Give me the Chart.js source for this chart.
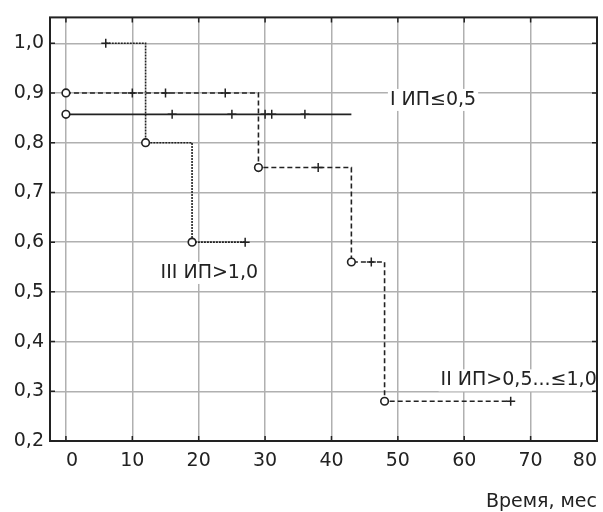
<!DOCTYPE html>
<html>
<head>
<meta charset="utf-8">
<script src="https://cdn.jsdelivr.net/npm/chart.js@4.4.1/dist/chart.umd.min.js"></script>
<style>
    html, body { margin: 0; padding: 0; background: #fff; }
    #wrap { width: 603px; height: 512px; }
</style>
</head>
<body>
<div id="wrap"><canvas id="survChart"></canvas></div>
<script>
// Axis ticks
const xTicks = [0, 10, 20, 30, 40, 50, 60, 70, 80];
const yTicks = [0.2, 0.3, 0.4, 0.5, 0.6, 0.7, 0.8, 0.9, 1.0];
const yTickLabels = ['0,2', '0,3', '0,4', '0,5', '0,6', '0,7', '0,8', '0,9', '1,0'];

// Group I  ИП≤0,5
const g1StepTime = [0, 43];
const g1StepSurv = [0.857, 0.857];
const g1EventTime = [0];
const g1EventSurv = [0.857];
const g1CensorTime = [16, 25, 30, 31, 36];
const g1CensorSurv = [0.857, 0.857, 0.857, 0.857, 0.857];

// Group II  ИП>0,5...≤1,0
const g2StepTime = [0, 29, 43, 48, 67];
const g2StepSurv = [0.9, 0.75, 0.56, 0.28, 0.28];
const g2EventTime = [0, 29, 43, 48];
const g2EventSurv = [0.9, 0.75, 0.56, 0.28];
const g2CensorTime = [10, 15, 24, 38, 46, 67];
const g2CensorSurv = [0.9, 0.9, 0.9, 0.75, 0.56, 0.28];

// Group III  ИП>1,0
const g3StepTime = [6, 12, 19, 27];
const g3StepSurv = [1.0, 0.8, 0.6, 0.6];
const g3EventTime = [12, 19];
const g3EventSurv = [0.8, 0.6];
const g3CensorTime = [6, 27];
const g3CensorSurv = [1.0, 0.6];

// Curve labels (text and anchor in data units)
const curveLabels = [
    { text: 'I ИП≤0,5', x: 55.3, y: 0.886 },
    { text: 'II ИП>0,5...≤1,0', x: 68.2, y: 0.322 },
    { text: 'III ИП>1,0', x: 21.6, y: 0.538 }
];

const FONT = 'DejaVu Sans';
const INK = '#222';

function pts(xs, ys) {
    return xs.map((x, i) => ({ x: x, y: ys[i] }));
}

function stepSet(xs, ys, dash) {
    return {
        data: pts(xs, ys),
        showLine: true,
        stepped: 'before',
        borderColor: INK,
        borderWidth: 1.6,
        borderDash: dash,
        pointRadius: 0,
        order: 3
    };
}

function eventSet(xs, ys) {
    return {
        data: pts(xs, ys),
        showLine: false,
        pointStyle: 'circle',
        pointRadius: 3.8,
        pointBorderWidth: 1.6,
        pointBorderColor: INK,
        pointBackgroundColor: '#fff',
        order: 1
    };
}

function censorSet(xs, ys) {
    return {
        data: pts(xs, ys),
        showLine: false,
        pointStyle: 'cross',
        pointRadius: 4.5,
        pointBorderWidth: 1.5,
        pointBorderColor: INK,
        order: 2
    };
}

// Labels, full frame and inner tick marks
const framePlugin = {
    id: 'frame',
    afterDatasetsDraw(chart) {
        const { ctx, chartArea: a, scales: { x, y } } = chart;
        ctx.save();
        ctx.font = '19px "' + FONT + '"';
        ctx.textAlign = 'center';
        ctx.textBaseline = 'middle';
        curveLabels.forEach(l => {
            const px = x.getPixelForValue(l.x);
            const py = y.getPixelForValue(l.y);
            const w = ctx.measureText(l.text).width;
            ctx.fillStyle = '#fff';
            ctx.fillRect(px - w / 2 - 2, py - 11, w + 4, 22);
            ctx.fillStyle = INK;
            ctx.fillText(l.text, px, py);
        });

        ctx.strokeStyle = INK;
        ctx.lineWidth = 2;
        ctx.strokeRect(a.left, a.top, a.right - a.left, a.bottom - a.top);

        ctx.lineWidth = 1.5;
        ctx.beginPath();
        xTicks.forEach(v => {
            const px = x.getPixelForValue(v);
            ctx.moveTo(px, a.top);
            ctx.lineTo(px, a.top + 5);
            ctx.moveTo(px, a.bottom);
            ctx.lineTo(px, a.bottom - 5);
        });
        yTicks.forEach(v => {
            const py = y.getPixelForValue(v);
            ctx.moveTo(a.left, py);
            ctx.lineTo(a.left + 5, py);
            ctx.moveTo(a.right, py);
            ctx.lineTo(a.right - 5, py);
        });
        ctx.stroke();
        ctx.restore();
    }
};

const ctx = document.getElementById('survChart').getContext('2d');
new Chart(ctx, {
    type: 'scatter',
    data: {
        datasets: [
            stepSet(g1StepTime, g1StepSurv, []),
            stepSet(g2StepTime, g2StepSurv, [5, 3]),
            stepSet(g3StepTime, g3StepSurv, [2, 1]),
            eventSet(g1EventTime, g1EventSurv),
            eventSet(g2EventTime, g2EventSurv),
            eventSet(g3EventTime, g3EventSurv),
            censorSet(g1CensorTime, g1CensorSurv),
            censorSet(g2CensorTime, g2CensorSurv),
            censorSet(g3CensorTime, g3CensorSurv)
        ]
    },
    options: {
        responsive: true,
        maintainAspectRatio: false,
        animation: false,
        layout: { padding: { top: 15, right: 4, bottom: 0, left: 0 } },
        plugins: {
            legend: { display: false },
            tooltip: { enabled: false }
        },
        scales: {
            x: {
                type: 'linear',
                min: -2.4,
                max: 80,
                afterBuildTicks: s => { s.ticks = xTicks.map(v => ({ value: v })); },
                afterFit: s => { s.height = 71; s.paddingRight = 0; s.paddingLeft = 0; },
                grid: { color: '#b0b0b0', lineWidth: 1.5, drawTicks: false },
                border: { display: false },
                ticks: {
                    padding: 9,
                    align: 'inner',
                    color: INK,
                    font: { family: FONT, size: 19 },
                    maxRotation: 0
                },
                title: {
                    display: true,
                    text: 'Время, мес',
                    align: 'end',
                    color: INK,
                    font: { family: FONT, size: 19, lineHeight: 1 },
                    padding: { top: 4, bottom: 0 }
                }
            },
            y: {
                type: 'linear',
                min: 0.2,
                max: 1.052,
                afterBuildTicks: s => { s.ticks = yTicks.map(v => ({ value: v })); },
                afterFit: s => { s.width = 50; },
                grid: { color: '#b0b0b0', lineWidth: 1.5, drawTicks: false },
                border: { display: false },
                ticks: {
                    padding: 6,
                    color: INK,
                    font: { family: FONT, size: 19 },
                    callback: (v, i) => yTickLabels[i]
                }
            }
        }
    },
    plugins: [framePlugin]
});
</script>
</body>
</html>
